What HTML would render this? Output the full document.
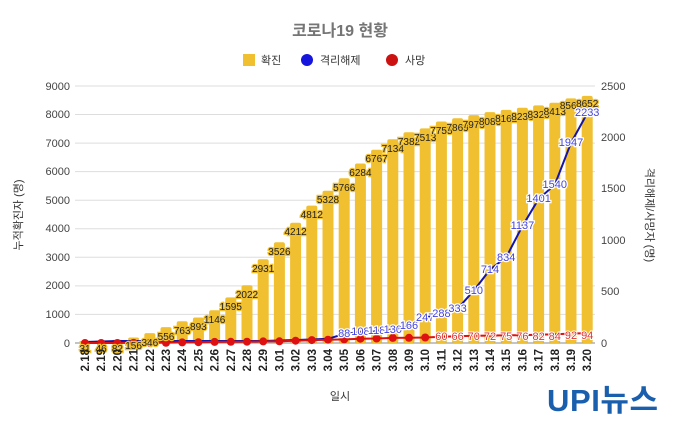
<!DOCTYPE html>
<html><head><meta charset="utf-8"><style>
body{margin:0;background:#fff}
svg{display:block;font-family:"Liberation Sans","Noto Sans CJK KR",sans-serif}
.bl{font-size:10px;fill:#222;stroke:#f0c030;stroke-width:2.5px;paint-order:stroke;text-anchor:middle}
.rl{font-size:11px;fill:#4444dd;stroke:#fff;stroke-width:2.5px;paint-order:stroke;text-anchor:middle}
.dl{font-size:11px;fill:#dd3333;stroke:#fff;stroke-width:2px;paint-order:stroke;text-anchor:middle}
.xt{font-size:11.5px;font-weight:bold;fill:#222;text-anchor:end}
.ax{font-size:11px;fill:#444}
</style></head><body>
<svg width="680" height="422" viewBox="0 0 680 422">
<text x="340" y="36" text-anchor="middle" font-size="16" font-weight="bold" fill="#757575">코로나19 현황</text>
<rect x="243" y="54" width="12" height="12" fill="#f0c030"/><text x="261" y="64" font-size="11" fill="#333">확진</text>
<circle cx="307" cy="60" r="6" fill="#1515dd"/><text x="320" y="64" font-size="11" fill="#333">격리해제</text>
<circle cx="392" cy="60" r="6" fill="#cc1111"/><text x="405" y="64" font-size="11" fill="#333">사망</text>
<g stroke="#ddd" stroke-width="1">
<line x1="75" x2="595" y1="86" y2="86"/><line x1="75" x2="595" y1="114.5" y2="114.5"/><line x1="75" x2="595" y1="143.1" y2="143.1"/><line x1="75" x2="595" y1="171.6" y2="171.6"/><line x1="75" x2="595" y1="200.2" y2="200.2"/><line x1="75" x2="595" y1="228.8" y2="228.8"/><line x1="75" x2="595" y1="257.3" y2="257.3"/><line x1="75" x2="595" y1="285.9" y2="285.9"/><line x1="75" x2="595" y1="314.4" y2="314.4"/>
</g>
<line x1="75" x2="595" y1="343" y2="343" stroke="#888"/>
<g class="ax" text-anchor="end">
<text x="70" y="90">9000</text><text x="70" y="118">8000</text><text x="70" y="147">7000</text><text x="70" y="175">6000</text><text x="70" y="204">5000</text><text x="70" y="232">4000</text><text x="70" y="261">3000</text><text x="70" y="289">2000</text><text x="70" y="318">1000</text><text x="70" y="347">0</text>
</g>
<g class="ax">
<text x="601" y="90">2500</text><text x="601" y="141">2000</text><text x="601" y="192">1500</text><text x="601" y="244">1000</text><text x="601" y="295">500</text><text x="601" y="347">0</text>
</g>
<text transform="translate(22,215) rotate(-90)" text-anchor="middle" font-size="11" fill="#333">누적확진자 (명)</text>
<text transform="translate(646,215) rotate(90)" text-anchor="middle" font-size="11" fill="#333">격리해제/사망자 (명)</text>
<text x="340" y="400" text-anchor="middle" font-size="11" fill="#333">일시</text>
<g fill="#f0c030">
<rect x="79.5" y="341" width="11" height="2"/><rect x="95.7" y="340.7" width="11" height="2.3"/><rect x="111.9" y="339.7" width="11" height="3.3" rx="2"/><rect x="128.1" y="337.5" width="11" height="5.5" rx="2"/><rect x="144.3" y="333.1" width="11" height="9.9" rx="2"/><rect x="160.5" y="327.1" width="11" height="15.9" rx="2"/><rect x="176.7" y="321.2" width="11" height="21.8" rx="2"/><rect x="192.9" y="317.5" width="11" height="25.5" rx="2"/><rect x="209.1" y="310.3" width="11" height="32.7" rx="2"/><rect x="225.3" y="297.4" width="11" height="45.6" rx="2"/><rect x="241.5" y="285.3" width="11" height="57.7" rx="2"/><rect x="257.7" y="259.3" width="11" height="83.7" rx="2"/><rect x="273.9" y="242.3" width="11" height="100.7" rx="2"/><rect x="290.1" y="222.7" width="11" height="120.3" rx="2"/><rect x="306.3" y="205.6" width="11" height="137.4" rx="2"/><rect x="322.5" y="190.8" width="11" height="152.2" rx="2"/><rect x="338.7" y="178.3" width="11" height="164.7" rx="2"/><rect x="354.9" y="163.5" width="11" height="179.5" rx="2"/><rect x="371.1" y="149.7" width="11" height="193.3" rx="2"/><rect x="387.3" y="139.3" width="11" height="203.7" rx="2"/><rect x="403.5" y="132.2" width="11" height="210.8" rx="2"/><rect x="419.7" y="128.4" width="11" height="214.6" rx="2"/><rect x="435.9" y="121.5" width="11" height="221.5" rx="2"/><rect x="452.1" y="118.3" width="11" height="224.7" rx="2"/><rect x="468.3" y="115.1" width="11" height="227.9" rx="2"/><rect x="484.5" y="112.1" width="11" height="230.9" rx="2"/><rect x="500.7" y="109.9" width="11" height="233.1" rx="2"/><rect x="516.9" y="107.8" width="11" height="235.2" rx="2"/><rect x="533.1" y="105.4" width="11" height="237.6" rx="2"/><rect x="549.3" y="102.7" width="11" height="240.3" rx="2"/><rect x="565.5" y="98.4" width="11" height="244.6" rx="2"/><rect x="581.7" y="95.9" width="11" height="247.1" rx="2"/>
</g>
<polyline fill="none" stroke="#1515aa" stroke-width="2" points="85,342 101.2,341.5 117.4,341 133.6,341 149.8,341 166,341 182.2,341 198.4,341 214.6,341 230.8,341 247,341 263.2,341 279.4,340.5 295.6,340 311.8,339.5 328,338.8 344.2,334 360.4,331.9 376.6,330.9 392.8,329.6 409,325.9 425.2,317.6 441.4,313.4 457.6,308.8 473.8,290.6 490,269.6 506.2,257.3 522.4,226.1 538.6,199 554.8,184.7 571,142.9 587.2,113.4"/>
<polyline fill="none" stroke="#dd1111" stroke-width="2" points="85,343 101.2,343 117.4,343 133.6,342.9 149.8,342.8 166,342.8 182.2,342.4 198.4,342.2 214.6,341.9 230.8,341.8 247,341.7 263.2,341.4 279.4,341.3 295.6,340.7 311.8,340.1 328,339.7 344.2,339.4 360.4,338.7 376.6,338.5 392.8,337.9 409,337.8 425.2,337.5 441.4,336.8 457.6,336.2 473.8,335.8 490,335.6 506.2,335.3 522.4,335.2 538.6,334.6 554.8,334.4 571,333.5 587.2,333.3"/>
<g fill="#dd1111">
<circle cx="85" cy="343" r="4"/><circle cx="101.2" cy="343" r="4"/><circle cx="117.4" cy="343" r="4"/><circle cx="133.6" cy="342.9" r="4"/><circle cx="149.8" cy="342.8" r="4"/><circle cx="166" cy="342.8" r="4"/><circle cx="182.2" cy="342.4" r="4"/><circle cx="198.4" cy="342.2" r="4"/><circle cx="214.6" cy="341.9" r="4"/><circle cx="230.8" cy="341.8" r="4"/><circle cx="247" cy="341.7" r="4"/><circle cx="263.2" cy="341.4" r="4"/><circle cx="279.4" cy="341.3" r="4"/><circle cx="295.6" cy="340.7" r="4"/><circle cx="311.8" cy="340.1" r="4"/><circle cx="328" cy="339.7" r="4"/><circle cx="344.2" cy="339.4" r="4"/><circle cx="360.4" cy="338.7" r="4"/><circle cx="376.6" cy="338.5" r="4"/><circle cx="392.8" cy="337.9" r="4"/><circle cx="409" cy="337.8" r="4"/><circle cx="425.2" cy="337.5" r="4"/>
</g>
<g class="bl">
<text x="85" y="352">31</text><text x="101.2" y="352">46</text><text x="117.4" y="352">82</text><text x="133.6" y="349">156</text><text x="149.8" y="346">346</text><text x="166" y="340">556</text><text x="182.2" y="334">763</text><text x="198.4" y="330">893</text><text x="214.6" y="323">1146</text><text x="230.8" y="310">1595</text><text x="247" y="298">2022</text><text x="263.2" y="272">2931</text><text x="279.4" y="255">3526</text><text x="295.6" y="235">4212</text><text x="311.8" y="218">4812</text><text x="328" y="203">5328</text><text x="344.2" y="191">5766</text><text x="360.4" y="176">6284</text><text x="376.6" y="162">6767</text><text x="392.8" y="152">7134</text><text x="409" y="145">7382</text><text x="425.2" y="141">7513</text><text x="441.4" y="134">7755</text><text x="457.6" y="131">7869</text><text x="473.8" y="128">7979</text><text x="490" y="125">8086</text><text x="506.2" y="122">8162</text><text x="522.4" y="120">8236</text><text x="538.6" y="118">8320</text><text x="554.8" y="115">8413</text><text x="571" y="109">8565</text><text x="587.2" y="107">8652</text>
</g>
<g class="rl">
<text x="344.2" y="337">88</text><text x="360.4" y="335">108</text><text x="376.6" y="334">118</text><text x="392.8" y="333">130</text><text x="409" y="329">166</text><text x="425.2" y="321">247</text><text x="441.4" y="317">288</text><text x="457.6" y="312">333</text><text x="473.8" y="294">510</text><text x="490" y="273">714</text><text x="506.2" y="261">834</text><text x="522.4" y="229">1137</text><text x="538.6" y="202">1401</text><text x="554.8" y="188">1540</text><text x="571" y="146">1947</text><text x="587.2" y="116">2233</text>
</g>
<g class="dl">
<text x="441.4" y="340">60</text><text x="457.6" y="340">66</text><text x="473.8" y="340">70</text><text x="490" y="340">72</text><text x="506.2" y="340">75</text><text x="522.4" y="340">76</text><text x="538.6" y="340">82</text><text x="554.8" y="340">84</text><text x="571" y="339">92</text><text x="587.2" y="339">94</text>
</g>
<g class="xt">
<text transform="translate(89,349) rotate(-90)">2.18</text><text transform="translate(105.2,349) rotate(-90)">2.19</text><text transform="translate(121.4,349) rotate(-90)">2.20</text><text transform="translate(137.6,349) rotate(-90)">2.21</text><text transform="translate(153.8,349) rotate(-90)">2.22</text><text transform="translate(170,349) rotate(-90)">2.23</text><text transform="translate(186.2,349) rotate(-90)">2.24</text><text transform="translate(202.4,349) rotate(-90)">2.25</text><text transform="translate(218.6,349) rotate(-90)">2.26</text><text transform="translate(234.8,349) rotate(-90)">2.27</text><text transform="translate(251,349) rotate(-90)">2.28</text><text transform="translate(267.2,349) rotate(-90)">2.29</text><text transform="translate(283.4,349) rotate(-90)">3.01</text><text transform="translate(299.6,349) rotate(-90)">3.02</text><text transform="translate(315.8,349) rotate(-90)">3.03</text><text transform="translate(332,349) rotate(-90)">3.04</text><text transform="translate(348.2,349) rotate(-90)">3.05</text><text transform="translate(364.4,349) rotate(-90)">3.06</text><text transform="translate(380.6,349) rotate(-90)">3.07</text><text transform="translate(396.8,349) rotate(-90)">3.08</text><text transform="translate(413,349) rotate(-90)">3.09</text><text transform="translate(429.2,349) rotate(-90)">3.10</text><text transform="translate(445.4,349) rotate(-90)">3.11</text><text transform="translate(461.6,349) rotate(-90)">3.12</text><text transform="translate(477.8,349) rotate(-90)">3.13</text><text transform="translate(494,349) rotate(-90)">3.14</text><text transform="translate(510.2,349) rotate(-90)">3.15</text><text transform="translate(526.4,349) rotate(-90)">3.16</text><text transform="translate(542.6,349) rotate(-90)">3.17</text><text transform="translate(558.8,349) rotate(-90)">3.18</text><text transform="translate(575,349) rotate(-90)">3.19</text><text transform="translate(591.2,349) rotate(-90)">3.20</text>
</g>
<text x="547" y="411" font-size="31" font-weight="bold" fill="#1a5fae" letter-spacing="-1" textLength="110">UPI뉴스</text>
</svg>
</body></html>
